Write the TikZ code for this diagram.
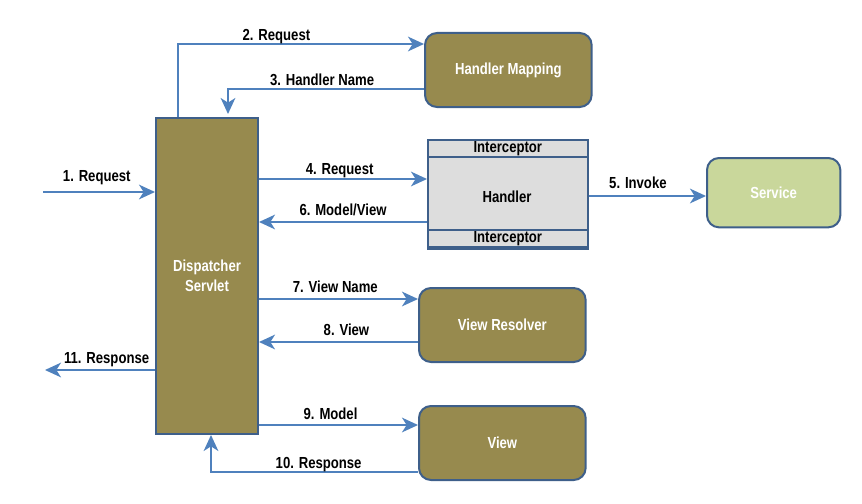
\documentclass[tikz,border=0pt]{standalone}
\usepackage{fontspec}
\setmainfont{Liberation Sans}[FakeStretch=0.82]
\usetikzlibrary{arrows.meta}
\definecolor{olive}{HTML}{978A4E}
\definecolor{edge}{HTML}{3E5F8A}
\definecolor{arr}{HTML}{4F81BD}
\definecolor{hgray}{HTML}{DDDDDD}
\definecolor{svc}{HTML}{C9D79B}
\tikzset{
  x=0.75pt, y=-0.75pt,
  box/.style={draw=edge, line width=1.5pt, fill=olive, rounded corners=9pt, text=white, font=\bfseries\fontsize{12}{14}\selectfont},
  flow/.style={draw=arr, line width=1.5pt, -{Stealth[length=12pt,width=11pt,inset=3.5pt]}},
  lbl/.style={font=\bfseries\fontsize{12}{14}\selectfont, text=black, inner sep=1pt},
}
\begin{document}
\begin{tikzpicture}
\useasboundingbox (0,0) rectangle (862,503);
% Dispatcher servlet
\node[draw=edge, line width=1.5pt, fill=olive, text=white, font=\bfseries\fontsize{12}{15}\selectfont, align=center, minimum width=76.5pt, minimum height=237pt, anchor=north west, inner sep=0pt] (ds) at (155,117) {Dispatcher\\Servlet};
% Handler mapping
\node[box, minimum width=125pt, minimum height=55.5pt, anchor=north west] (hm) at (424,32) {Handler Mapping};
% Handler
\node[draw=edge, line width=1.2pt, fill=hgray, minimum width=120pt, minimum height=81.75pt, anchor=north west, inner sep=0pt] (h) at (427,139) {};
\node[draw=edge, line width=1.2pt, fill=hgray, minimum width=120pt, minimum height=12.75pt, anchor=north west, inner sep=0pt, lbl] (it) at (427,139) {Interceptor};
\node[draw=edge, line width=1.2pt, fill=hgray, minimum width=120pt, minimum height=12.75pt, anchor=south west, inner sep=0pt, lbl] (ib) at (427,248) {Interceptor};
\node[lbl] (hl) at (507,197) {Handler};
% Service
\node[box, fill=svc, minimum width=100pt, minimum height=52pt, anchor=north west] (sv) at (706,157) {Service};
% View resolver
\node[box, minimum width=125pt, minimum height=55.5pt, anchor=north west] (vr) at (418,287) {View Resolver};
% View
\node[box, minimum width=125pt, minimum height=55.5pt, anchor=north west] (v) at (418,405) {View};

\coordinate (in1) at (43,192);
\coordinate (out11) at (45,370);

% arrows
\draw[flow] (in1) -- (in1 -| ds.west) node[lbl, pos=0.48, above=4pt] {1. Request};
\draw[flow] (178,117) |- (hm.west |- 0,44) node[lbl, pos=0.70, above=-1.5pt] {2. Request};
\draw[flow] (hm.west |- 0,89) -| (228,114) node[lbl, pos=0.26, above=1pt] {3. Handler Name};
\draw[flow] (ds.east |- 0,179) -- (h.west |- 0,179) node[lbl, pos=0.48, above=-0.5pt] {4. Request};
\draw[flow] (h.west |- 0,222) -- (ds.east |- 0,222) node[lbl, midway, above=3pt] {6. Model/View};
\draw[flow] (h.east |- 0,196) -- (sv.west |- 0,196) node[lbl, pos=0.42, above=3.5pt] {5. Invoke};
\draw[flow] (ds.east |- 0,299) -- (vr.west |- 0,299) node[lbl, pos=0.48, above=3pt] {7. View Name};
\draw[flow] (vr.west |- 0,342) -- (ds.east |- 0,342) node[lbl, pos=0.45, above=3pt] {8. View};
\draw[flow] (ds.west |- out11) -- (out11) node[lbl, pos=0.44, above=1pt] {11. Response};
\draw[flow] (ds.east |- 0,425) -- (v.west |- 0,425) node[lbl, pos=0.45, above=2.5pt] {9. Model};
\draw[flow] (v.west |- 0,472) -| (211,435) node[lbl, pos=0.24, above=-1.5pt] {10. Response};
\end{tikzpicture}
\end{document}
